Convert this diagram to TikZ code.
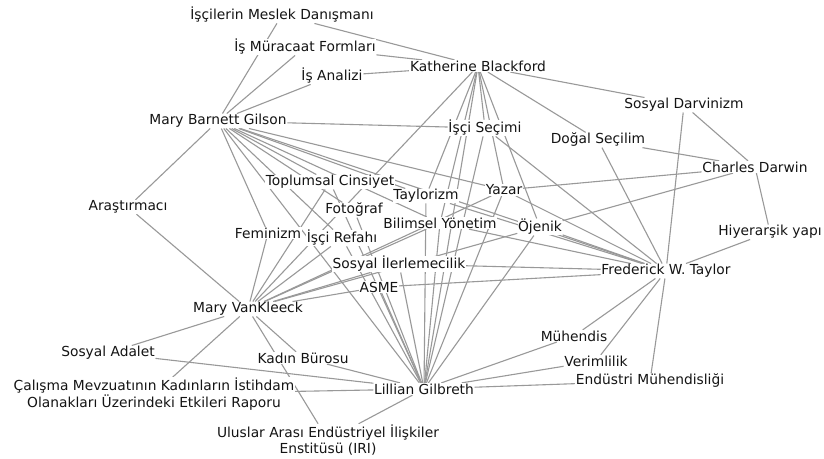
\documentclass[tikz,border=0pt]{standalone}
\usepackage{fontspec}
\setmainfont{DejaVu Sans}
\pgfdeclarelayer{background}
\pgfsetlayers{background,main}
\begin{document}
\begin{tikzpicture}[x=1pt,y=-1pt,
  lbl/.style={fill=white,inner sep=0.6pt,text=black!92,font=\fontsize{13.8}{16.5}\selectfont,align=center},
  edge/.style={draw=black!40,line width=1.1pt}]
\useasboundingbox (0,0) rectangle (824,458);
\node[lbl] (imd) at (282,15) {İşçilerin Meslek Danışmanı};
\node[lbl] (imf) at (305,47) {İş Müracaat Formları};
\node[lbl] (ia) at (332,76) {İş Analizi};
\node[lbl] (kb) at (478,66) {Katherine Blackford};
\node[lbl] (mbg) at (218,121) {Mary Barnett Gilson};
\node[lbl] (is) at (485,128) {İşçi Seçimi};
\node[lbl] (sd) at (684,105) {Sosyal Darvinizm};
\node[lbl] (ds) at (598,140) {Doğal Seçilim};
\node[lbl] (cd) at (755,167) {Charles Darwin};
\node[lbl] (tc) at (330,182) {Toplumsal Cinsiyet};
\node[lbl] (tay) at (426,196) {Taylorizm};
\node[lbl] (yaz) at (504,190) {Yazar};
\node[lbl] (fot) at (354,210) {Fotoğraf};
\node[lbl] (by) at (440,223) {Bilimsel Yönetim};
\node[lbl] (oj) at (540,227) {Öjenik};
\node[lbl] (ar) at (128,207) {Araştırmacı};
\node[lbl] (fem) at (268,233) {Feminizm};
\node[lbl] (ir) at (342,238) {İşçi Refahı};
\node[lbl] (hy) at (770,232) {Hiyerarşik yapı};
\node[lbl] (si) at (399,264) {Sosyal İlerlemecilik};
\node[lbl] (fwt) at (666,271) {Frederick W. Taylor};
\node[lbl] (asme) at (379,287) {ASME};
\node[lbl] (mvk) at (248,309) {Mary VanKleeck};
\node[lbl] (muh) at (574,336) {Mühendis};
\node[lbl] (sa) at (108,353) {Sosyal Adalet};
\node[lbl] (kab) at (303,358) {Kadın Bürosu};
\node[lbl] (ver) at (596,361) {Verimlilik};
\node[lbl] (em) at (650,381) {Endüstri Mühendisliği};
\node[lbl] (lg) at (424,389) {Lillian Gilbreth};
\node[lbl] (cm) at (154,394) {Çalışma Mevzuatının Kadınların İstihdam\\Olanakları Üzerindeki Etkileri Raporu};
\node[lbl] (iri) at (328,440) {Uluslar Arası Endüstriyel İlişkiler\\Enstitüsü (IRI)};
\begin{pgfonlayer}{background}
\fill[white] (0,0) rectangle (824,458);
% Mary Barnett Gilson
\foreach \t in {imd,imf,ia,is,ar,fem,lg,tc,fot,ir,tay,by,yaz,fwt}
  \draw[edge] (mbg) -- (\t);
% Katherine Blackford
\foreach \t in {imd,imf,ia,sd,ds,is,mvk,tay,by,yaz,oj,lg}
  \draw[edge] (kb) -- (\t);
% Frederick W. Taylor
\foreach \t in {is,yaz,oj,by,tay,si,asme,ds,sd,hy,muh,ver,em}
  \draw[edge] (fwt) -- (\t);
% Charles Darwin
\foreach \t in {ds,sd,yaz,oj,hy}
  \draw[edge] (cd) -- (\t);
% Mary VanKleeck
\foreach \t in {ar,sa,cm,kab,iri,fem,tc,ir,si,asme,by,yaz,oj}
  \draw[edge] (mvk) -- (\t);
% Lillian Gilbreth
\foreach \t in {is,tay,by,fot,ir,tc,si,asme,yaz,oj,muh,ver,em,kab,sa,cm,iri}
  \draw[edge] (lg) -- (\t);
\end{pgfonlayer}
\end{tikzpicture}
\end{document}
